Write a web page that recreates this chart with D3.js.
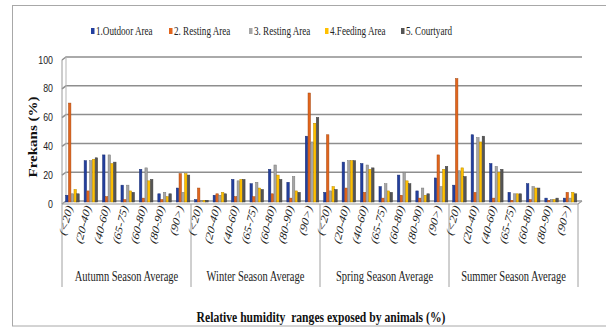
<!DOCTYPE html>
<html>
<head>
<meta charset="utf-8">
<script src="https://cdn.jsdelivr.net/npm/d3@7"></script>
<style>
  html, body { margin: 0; padding: 0; background: #fff; }
  svg { display: block; }
</style>
</head>
<body>
<svg id="chart" width="606" height="331"></svg>
<script>
// Humidity ranges and season groups along the category axis
const seasons = ["Autumn Season Average", "Winter Season Average", "Spring Season Average", "Summer Season Average"];
const ranges = ["(<20)", "(20-40)", "(40-60)", "(65-75)", "(60-80)", "(80-90)", "(90>)"];
const seriesNames = ["1.Outdoor Area", "2. Resting Area", "3. Resting Area", "4.Feeding Area", "5. Courtyard"];
const seriesColors = ["#233f9e", "#e2651c", "#a6a6a6", "#ffc000", "#555555"];
const yTicks = [0, 20, 40, 60, 80, 100];

// Frequency (%) per season x humidity range, one array per area
const outdoor   = [4, 28, 32, 11, 22, 5, 9,   1, 4, 15, 12, 22, 13, 45,   6, 27, 26, 10, 18, 7, 16,   11, 46, 26, 6, 12, 2, 2];
const resting2  = [68, 7, 3, 1, 2, 1, 19,     9, 5, 3, 3, 5, 2, 75,       46, 9, 6, 2, 4, 2, 32,      85, 6, 2, 0.5, 1, 0.5, 6];
const resting3  = [5, 28, 32, 11, 23, 6, 6,   0.5, 4, 14, 13, 25, 17, 41, 7, 28, 25, 12, 20, 9, 10,   21, 44, 24, 5, 10, 1, 2];
const feeding   = [8, 29, 26, 7, 14, 3, 19,   0.5, 6, 15, 9, 18, 7, 54,   10, 28, 22, 7, 14, 4, 22,   23, 41, 20, 5, 9, 1, 6];
const courtyard = [5, 30, 27, 6, 15, 5, 18,   0.5, 5, 15, 8, 15, 6, 58,   8, 28, 23, 6, 12, 5, 24,    17, 45, 22, 5, 9, 2, 5];
const seriesValues = [outdoor, resting2, resting3, feeding, courtyard];

const svg = d3.select("#chart");
const SERIF = "'Liberation Serif', 'Times New Roman', serif";
const SANS = "'Liberation Sans', Arial, sans-serif";
const SQ = 0.8; // horizontal squeeze applied to text

// Outer chart frame
svg.append("rect")
  .attr("x", 12.5).attr("y", 5.5).attr("width", 620).attr("height", 320.5)
  .attr("fill", "none").attr("stroke", "#a8a8a8").attr("stroke-width", 1);

// Plot geometry: front axis edge and 3D depth offset
const left = 62, right = 578, depth = 4;
const y = d3.scaleLinear().domain([0, 100]).range([201, 57]);

const xSeason = d3.scaleBand().domain(d3.range(seasons.length)).range([left, right]).padding(0);
const xCat = d3.scaleBand().domain(d3.range(ranges.length)).range([0, xSeason.bandwidth()]).padding(0);
const bw = xCat.bandwidth();
const xSer = d3.scaleBand().domain(d3.range(seriesNames.length)).range([bw * 0.2, bw * 0.95]).padding(0);

// Gridlines on the back wall with a short side-wall segment
const grid = svg.append("g");
yTicks.forEach(t => {
  grid.append("path")
    .attr("d", `M${left},${y(t) + 3}L${left + depth},${y(t)}L${right + depth},${y(t)}`)
    .attr("fill", "none")
    .attr("stroke", t === 0 ? "#9a9a9a" : "#8e8e8e")
    .attr("stroke-width", 1.5);
});
// Side wall / vertical axis
grid.append("line")
  .attr("x1", left).attr("x2", left).attr("y1", y(100) + 3).attr("y2", y(0) + 3)
  .attr("stroke", "#9a9a9a").attr("stroke-width", 1);
grid.append("line")
  .attr("x1", left + depth).attr("x2", left + depth).attr("y1", y(100)).attr("y2", y(0))
  .attr("stroke", "#b5b5b5").attr("stroke-width", 1);
// Floor front edge
grid.append("path")
  .attr("d", `M${left},${y(0) + 3}L${right},${y(0) + 3}L${right + depth},${y(0)}`)
  .attr("fill", "none").attr("stroke", "#9a9a9a").attr("stroke-width", 1.2);

// Y tick labels
yTicks.forEach(t => {
  svg.append("g")
    .attr("transform", `translate(53,${y(t) + 6.5}) scale(${SQ},1)`)
    .append("text")
    .attr("text-anchor", "end")
    .attr("font-family", SANS).attr("font-size", 11).attr("fill", "#222")
    .text(t);
});

// Bars
const bars = svg.append("g");
seriesValues.forEach((vals, s) => {
  const col = d3.color(seriesColors[s]);
  bars.selectAll(null)
    .data(vals)
    .enter().append("rect")
    .attr("x", (d, i) => xSeason(Math.floor(i / ranges.length)) + xCat(i % ranges.length) + xSer(s))
    .attr("y", d => y(d))
    .attr("width", xSer.bandwidth() - 0.3)
    .attr("height", d => Math.max(0.8, y(0) - y(d) + 1))
    .attr("fill", seriesColors[s])
    .attr("stroke", col.darker(0.9))
    .attr("stroke-width", 0.5);
});

// Category axis: season separators
d3.range(seasons.length + 1).forEach(k => {
  const x = k < seasons.length ? xSeason(k) : right;
  svg.append("line")
    .attr("x1", x).attr("x2", x).attr("y1", y(0) + 3).attr("y2", 287)
    .attr("stroke", "#a0a0a0").attr("stroke-width", 1);
});

// Rotated humidity range labels
seasons.forEach((s, si) => {
  ranges.forEach((r, ri) => {
    const cx = xSeason(si) + xCat(ri) + bw / 2 + 1.5;
    svg.append("g")
      .attr("transform", `translate(${cx},207) scale(${SQ},1) rotate(-73)`)
      .append("text")
      .attr("text-anchor", "end")
      .attr("font-family", SERIF).attr("font-style", "italic")
      .attr("font-size", 13).attr("fill", "#222")
      .text(r);
  });
  // Season name under its group
  svg.append("g")
    .attr("transform", `translate(${xSeason(si) + xSeason.bandwidth() / 2},281) scale(0.75,1)`)
    .append("text")
    .attr("text-anchor", "middle")
    .attr("font-family", SERIF).attr("font-size", 14).attr("fill", "#222")
    .text(s);
});

// Axis titles
svg.append("g")
  .attr("transform", `translate(37,137) scale(${SQ},1) rotate(-90)`)
  .append("text")
  .attr("text-anchor", "middle")
  .attr("font-family", SERIF).attr("font-weight", "bold").attr("font-size", 15).attr("fill", "#111")
  .text("Frekans (%)");

svg.append("g")
  .attr("transform", `translate(321,322) scale(0.83,1)`)
  .append("text")
  .attr("text-anchor", "middle")
  .attr("font-family", SERIF).attr("font-weight", "bold").attr("font-size", 14).attr("fill", "#111")
  .attr("xml:space", "preserve")
  .text("Relative humidity  ranges exposed by animals (%)");

// Legend
const legendX = [91, 169, 249, 325, 401];
seriesNames.forEach((n, i) => {
  svg.append("rect")
    .attr("x", legendX[i]).attr("y", 28).attr("width", 3.5).attr("height", 6)
    .attr("fill", seriesColors[i]);
  svg.append("g")
    .attr("transform", `translate(${legendX[i] + 5},34.5) scale(0.76,1)`)
    .append("text")
    .attr("font-family", SERIF).attr("font-size", 12).attr("fill", "#222")
    .text(n);
});
</script>
</body>
</html>
